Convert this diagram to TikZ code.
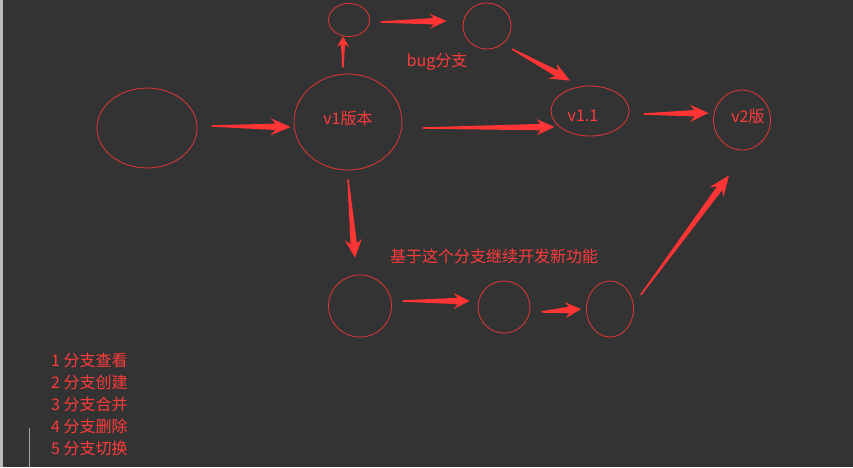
\documentclass[tikz,border=0pt]{standalone}
\usepackage{fontspec}
\setmainfont{Noto Sans CJK SC}
\usetikzlibrary{shapes.geometric,calc}
\definecolor{bg}{HTML}{333333}
\definecolor{rd}{HTML}{FF3B3B}
\definecolor{ln}{HTML}{E43636}
\definecolor{af}{HTML}{FF3434}
\newcommand\farrow[6][3.2pt]{%
  \fill[arrfill] ($(#2)!0.7pt!90:(#3)$) -- ($(#3)!#4!(#2)!#1!-90:(#2)$) -- ($(#3)!#5!(#2)!#6!-90:(#2)$) -- (#3) -- ($(#3)!#5!(#2)!#6!90:(#2)$) -- ($(#3)!#4!(#2)!#1!90:(#2)$) -- ($(#2)!0.7pt!-90:(#3)$) -- cycle;}
\begin{document}
\begin{tikzpicture}[x=1pt,y=-1pt,
  ell/.style={draw=ln,line width=0.8pt,ellipse,inner sep=0pt},
  txt/.style={text=rd,font=\fontsize{16}{16}\selectfont,inner sep=0pt},
  arrfill/.style={fill=af}]
\fill[bg] (0,0) rectangle (853,467);
\useasboundingbox (0,0) rectangle (853,467);
\fill[gray!55] (0,0) rectangle (2.5,467);
\draw[gray!70,line width=1pt] (29.5,428) -- (29.5,467);
% nodes
\node[ell,minimum width=100pt,minimum height=80pt] (E0) at (147,128) {};
\node[ell,minimum width=108pt,minimum height=96pt] (V1) at (348,122) {};
\node[ell,minimum width=41pt,minimum height=33pt] (T1) at (349,20) {};
\node[ell,minimum width=48pt,minimum height=46pt] (T2) at (487,26) {};
\node[ell,minimum width=78pt,minimum height=50pt] (V11) at (590,111) {};
\node[ell,minimum width=57pt,minimum height=60pt] (V2) at (742,120) {};
\node[ell,minimum width=63pt,minimum height=62pt] (B1) at (360,306) {};
\node[ell,minimum width=52pt,minimum height=52pt] (B2) at (504,307) {};
\node[ell,minimum width=47pt,minimum height=56pt] (B3) at (610,309) {};
% labels
\node[txt] (V1t) at ($(V1)+(0,-4)$) {v1版本};
\node[txt] (V11t) at ($(V11)+(-7,5)$) {v1.1};
\node[txt] (V2t) at ($(V2)+(6,-4)$) {v2版};
\node[txt] (bugt) at (437,62) {bug分支};
\node[txt] (newt) at (494,256) {基于这个分支继续开发新功能};
\foreach \i/\t [count=\k from 0] in {1/分支查看,2/分支创建,3/分支合并,4/分支删除,5/分支切换}
  \node[txt,anchor=west] (L\i) at (51,360+22*\k) {\i\ \t};
% arrow ends
\coordinate (a1s) at ($(E0.east)+(14,-2)$);
\coordinate (a1e) at ($(V1.west)+(-3,5)$);
\coordinate (a2s) at ($(V1.north)+(-5,-6)$);
\coordinate (a2e) at ($(T1.south)+(-6,-0.5)$);
\coordinate (a3s) at ($(T1.east)+(10.5,2)$);
\coordinate (a3e) at ($(T2.west)+(-16,-5)$);
\coordinate (a4s) at ($(T2)+(25,23)$);
\coordinate (a4e) at ($(V11.north)+(-20,-5)$);
\coordinate (a5s) at ($(V1.east)+(20,6)$);
\coordinate (a5e) at ($(V11.west)+(4,16)$);
\coordinate (a6s) at ($(V11.east)+(14,3)$);
\coordinate (a6e) at ($(V2.west)+(-4.5,-7)$);
\coordinate (a7s) at ($(V1.south)+(0,9)$);
\coordinate (a7e) at ($(B1.north)+(-5,-17)$);
\coordinate (a8s) at ($(B1.east)+(10.5,-5)$);
\coordinate (a8e) at ($(B2.west)+(-8,-6)$);
\coordinate (a9s) at ($(B2.east)+(11,5)$);
\coordinate (a9e) at ($(B3.west)+(-5,0)$);
\coordinate (a10s) at ($(B3)+(30.7,-14)$);
\coordinate (a10e) at ($(V2.south)+(-13,25)$);
% arrows
\farrow{a1s}{a1e}{15pt}{20pt}{8.5pt}
\farrow[2pt]{a2s}{a2e}{8pt}{10.5pt}{6pt}
\farrow{a3s}{a3e}{13pt}{17pt}{7.5pt}
\farrow{a4s}{a4e}{15pt}{20pt}{8.5pt}
\farrow{a5s}{a5e}{14pt}{18pt}{8pt}
\farrow{a6s}{a6e}{14pt}{18.5pt}{8.5pt}
\farrow{a7s}{a7e}{14pt}{18pt}{8.5pt}
\farrow{a8s}{a8e}{12pt}{16pt}{8pt}
\farrow{a9s}{a9e}{12pt}{16pt}{8pt}
\farrow{a10s}{a10e}{16pt}{21pt}{8.5pt}
\end{tikzpicture}
\end{document}
